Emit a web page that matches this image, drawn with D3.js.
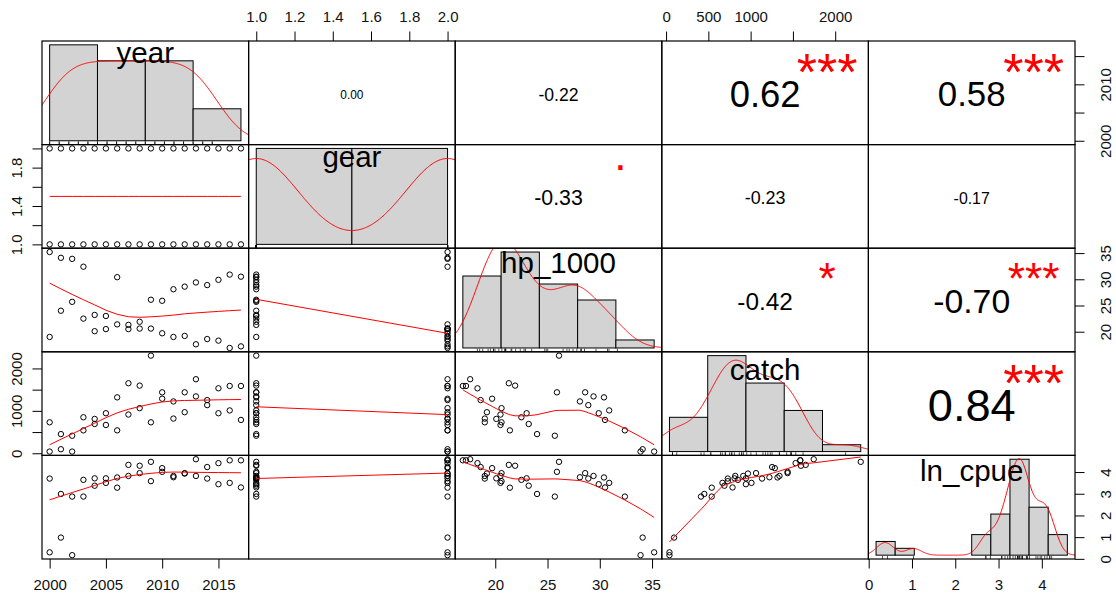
<!DOCTYPE html>
<html><head><meta charset="utf-8">
<script src="https://cdn.jsdelivr.net/npm/d3@7"></script>
<style>html,body{margin:0;padding:0;background:#fff}svg{display:block}</style>
</head><body>
<svg id="c" width="1116" height="594"></svg>
<script>
// ---------------- data ----------------
const varNames = ["year", "gear", "hp_1000", "catch", "ln_cpue"];
const year = [2000,2000,2001,2001,2002,2002,2003,2003,2004,2004,2005,2005,2006,2006,2007,2007,2008,2008,
              2009,2009,2010,2010,2011,2011,2012,2012,2013,2013,2014,2014,2015,2015,2016,2016,2017,2017];
const gear = [1,2,1,2,1,2,1,2,1,2,1,2,1,2,1,2,1,2,1,2,1,2,1,2,1,2,1,2,1,2,1,2,1,2,1,2];
const hp1000 = [19.0,35.2, 24.0,34.1, 25.7,33.9, 22.5,32.4, 23.2,20.1, 23.0,20.5, 30.4,21.4, 21.3,20.5,
                21.9,20.6, 26.1,20.6, 25.9,19.7, 28.1,19.0, 28.6,19.2, 29.4,17.6, 28.9,18.6, 29.9,18.3,
                30.9,16.9, 30.5,17.2];
const catchV = [730,40, 452,95, 413,40, 849,540, 690,810, 944,667, 1318,540, 1651,913, 1595,1064, 2302,730,
                1437,1286, 1222,818, 1437,968, 1341,1746, 1135,1254, 944,1532, 1010,1587, 786,1587];
const lnCpue = [3.70,0.30, 2.99,0.98, 2.87,0.17, 3.64,2.87, 3.37,3.71, 3.71,3.50, 3.75,3.28, 4.33,3.82,
                4.29,3.95, 4.47,3.58, 4.01,4.18, 3.76,3.82, 3.95,3.93, 3.82,4.59, 3.70,4.23, 3.44,4.41,
                3.50,4.54, 3.29,4.54];

// histogram breaks
const breaksYear = [2000, 2005, 2010, 2015, 2020];
const breaksGear = [1.0, 1.5, 2.0];
const breaksHp = [15, 20, 25, 30, 35, 40];
const breaksCatch = [0, 500, 1000, 1500, 2000, 2500];
const breaksLn = [0, 0.5, 1, 1.5, 2, 2.5, 3, 3.5, 4, 4.5, 5];

// correlations (upper panels, pairs i<j in row order) and significance
const corPairs = [[0,1],[0,2],[0,3],[0,4],[1,2],[1,3],[1,4],[2,3],[2,4],[3,4]];
const corValues = [0.00, -0.22, 0.62, 0.58, -0.33, -0.23, -0.17, -0.42, -0.70, 0.84];
const corLabels = ["0.00", "-0.22", "0.62", "0.58", "-0.33", "-0.23", "-0.17", "-0.42", "-0.70", "0.84"];
const corSignif = ["", "", "***", "***", ".", "", "", "*", "***", "***"];

// axis ticks and the labels that are shown
const yearTicks = [2000, 2005, 2010, 2015];
const yearBottomLabels = [2000, 2005, 2010, 2015];
const yearRightLabels = [2000, 2010];
const gearTicks = [1.0, 1.2, 1.4, 1.6, 1.8, 2.0];
const gearTopLabels = [1.0, 1.2, 1.4, 1.6, 1.8, 2.0];
const gearLeftLabels = [1.0, 1.4, 1.8];
const hpTicks = [20, 25, 30, 35];
const hpBottomLabels = [20, 25, 30, 35];
const hpRightLabels = [20, 25, 30, 35];
const catchTicks = [0, 500, 1000, 1500, 2000];
const catchTopLabels = [0, 500, 1000, 2000];
const catchLeftLabels = [0, 1000, 2000];
const lnTicks = [0, 1, 2, 3, 4];
const lnBottomLabels = [0, 1, 2, 3, 4];
const lnRightLabels = [0, 1, 2, 3, 4];

// ---------------- helpers ----------------
const FONT = '"Liberation Sans", Arial, Helvetica, sans-serif';
const series = [year, gear, hp1000, catchV, lnCpue];
const breaksList = [breaksYear, breaksGear, breaksHp, breaksCatch, breaksLn];
const N = year.length;
const nv = varNames.length;
const L = 42, R = 1075, T = 41, B = 559;
const pw = (R - L) / nv, ph = (B - T) / nv;
const colX = d3.range(nv).map(k => L + k * pw);
const rowY = d3.range(nv).map(k => T + k * ph);

const cv = document.createElement('canvas').getContext('2d');
function ink(text, fs) {
  cv.font = `${fs}px ${FONT}`;
  const m = cv.measureText(text);
  return {w: m.width, asc: m.actualBoundingBoxAscent, desc: m.actualBoundingBoxDescent};
}
// baseline so that the ink of the text is centred on yc
function baselineFor(text, fs, yc) { const m = ink(text, fs); return yc + (m.asc - m.desc) / 2; }

function padDomain(v) { const [a, b] = d3.extent(v); const r = b - a; return [a - 0.04 * r, b + 0.04 * r]; }

function bwNrd0(x) {
  const s = d3.deviation(x);
  const sorted = x.slice().sort((a, b) => a - b);
  const iqr = d3.quantileSorted(sorted, 0.75) - d3.quantileSorted(sorted, 0.25);
  let lo = Math.min(s, iqr / 1.34);
  if (!(lo > 0)) lo = s || Math.abs(x[0]) || 1;
  return 0.9 * lo * Math.pow(x.length, -0.2);
}
function density(x) {
  const bw = bwNrd0(x);
  const lo = d3.min(x) - 3 * bw, hi = d3.max(x) + 3 * bw;
  const n = x.length, out = [];
  for (let i = 0; i < 512; i++) {
    const g = lo + (hi - lo) * i / 511;
    let s = 0;
    for (const v of x) { const z = (g - v) / bw; s += Math.exp(-0.5 * z * z); }
    out.push([g, s / (n * bw * Math.sqrt(2 * Math.PI))]);
  }
  return out;
}

// port of R's clowess
function lowest(x, y, n, xs, nleft, nright, w, userw, rw) {
  const range = x[n] - x[1];
  const h = Math.max(xs - x[nleft], x[nright] - xs);
  const h9 = 0.999 * h, h1 = 0.001 * h;
  let a = 0, j = nleft;
  while (j <= n) {
    w[j] = 0;
    const r = Math.abs(x[j] - xs);
    if (r <= h9) {
      if (r <= h1) w[j] = 1; else w[j] = Math.pow(1 - Math.pow(r / h, 3), 3);
      if (userw) w[j] *= rw[j];
      a += w[j];
    } else if (x[j] > xs) break;
    j++;
  }
  const nrt = j - 1;
  if (a <= 0) return {ok: false};
  for (j = nleft; j <= nrt; j++) w[j] /= a;
  if (h > 0) {
    a = 0;
    for (j = nleft; j <= nrt; j++) a += w[j] * x[j];
    let b = xs - a, c = 0;
    for (j = nleft; j <= nrt; j++) c += w[j] * (x[j] - a) * (x[j] - a);
    if (Math.sqrt(c) > 0.001 * range) {
      b /= c;
      for (j = nleft; j <= nrt; j++) w[j] *= (b * (x[j] - a) + 1);
    }
  }
  let ys = 0;
  for (j = nleft; j <= nrt; j++) ys += w[j] * y[j];
  return {ok: true, ys};
}
function lowess(xIn, yIn, f = 2 / 3, nsteps = 3) {
  const n = xIn.length;
  const idx = d3.range(n).sort((a, b) => (xIn[a] - xIn[b]) || (a - b));
  const x = [0].concat(idx.map(i => xIn[i]));
  const y = [0].concat(idx.map(i => yIn[i]));
  const delta = 0.01 * (x[n] - x[1]);
  const ys = new Array(n + 1).fill(0), rw = new Array(n + 1).fill(0),
        res = new Array(n + 1).fill(0), w = new Array(n + 1).fill(0);
  const ns = Math.max(2, Math.min(n, Math.floor(f * n + 1e-7)));
  let iter = 1;
  while (iter <= nsteps + 1) {
    let nleft = 1, nright = ns, last = 0, i = 1;
    for (;;) {
      if (nright < n) {
        const d1 = x[i] - x[nleft], d2 = x[nright + 1] - x[i];
        if (d1 > d2) { nleft++; nright++; continue; }
      }
      const r = lowest(x, y, n, x[i], nleft, nright, w, iter > 1, rw);
      ys[i] = r.ok ? r.ys : y[i];
      if (last < i - 1) {
        const denom = x[i] - x[last];
        for (let j = last + 1; j < i; j++) {
          const alpha = (x[j] - x[last]) / denom;
          ys[j] = alpha * ys[i] + (1 - alpha) * ys[last];
        }
      }
      last = i;
      const cut = x[last] + delta;
      for (i = last + 1; i <= n; i++) {
        if (x[i] > cut) break;
        if (x[i] === x[last]) { ys[i] = ys[last]; last = i; }
      }
      i = Math.max(last + 1, i - 1);
      if (last >= n) break;
    }
    let sc = 0;
    for (let k = 1; k <= n; k++) { res[k] = y[k] - ys[k]; sc += Math.abs(res[k]); }
    sc /= n;
    if (iter > nsteps) break;
    for (let k = 1; k <= n; k++) rw[k] = Math.abs(res[k]);
    const sorted = rw.slice(1).sort((a, b) => a - b);
    const m1 = Math.floor(n / 2);
    let cmad;
    if (n % 2 === 0) { const m2 = n - m1 - 1; cmad = 3 * (sorted[m1] + sorted[m2]); }
    else cmad = 6 * sorted[m1];
    if (cmad < 1e-7 * sc) break;
    const c9 = 0.999 * cmad, c1 = 0.001 * cmad;
    for (let k = 1; k <= n; k++) {
      const r = Math.abs(res[k]);
      rw[k] = r <= c1 ? 1 : (r <= c9 ? Math.pow(1 - Math.pow(r / cmad, 2), 2) : 0);
    }
    iter++;
  }
  const out = [];
  for (let k = 1; k <= n; k++) out.push([x[k], ys[k]]);
  return out;
}

// ---------------- drawing ----------------
const svg = d3.select('#c');
svg.append('rect').attr('width', 1116).attr('height', 594).attr('fill', '#fff');
const defs = svg.append('defs');

const xS = series.map((v, k) => d3.scaleLinear().domain(padDomain(v)).range([colX[k], colX[k] + pw]));
const yS = series.map((v, k) => d3.scaleLinear().domain(padDomain(v)).range([rowY[k] + ph, rowY[k]]));

function clipId(i, j) {
  const id = `clip${i}_${j}`;
  if (defs.select('#' + id).empty())
    defs.append('clipPath').attr('id', id).append('rect')
      .attr('x', colX[j]).attr('y', rowY[i]).attr('width', pw).attr('height', ph);
  return `url(#${id})`;
}

for (let i = 0; i < nv; i++) {
  for (let j = 0; j < nv; j++) {
    const cx = colX[j] + pw / 2, cy = rowY[i] + ph / 2;
    if (i > j) {
      // lower panel: points + lowess
      const g = svg.append('g').attr('clip-path', clipId(i, j));
      g.selectAll('circle').data(d3.range(N)).join('circle')
        .attr('cx', n => xS[j](series[j][n])).attr('cy', n => yS[i](series[i][n]))
        .attr('r', 2.7).attr('fill', 'none').attr('stroke', '#000').attr('stroke-width', 1);
      const lw = lowess(series[j], series[i]);
      g.append('path').attr('d', d3.line().x(d => xS[j](d[0])).y(d => yS[i](d[1]))(lw))
        .attr('fill', 'none').attr('stroke', '#ff0000').attr('stroke-width', 1);
    } else if (i < j) {
      const ci = corPairs.findIndex(p => p[0] === i && p[1] === j);
      const r = corValues[ci], txt = corLabels[ci], sig = corSignif[ci];
      const u = ink(txt, 100).w / 100;
      const cexFs = 0.49 * pw / u;
      const fsNum = 0.485 * pw / u * (Math.abs(r) + 0.3) / 1.3;
      svg.append('text').attr('x', cx).attr('y', baselineFor(txt, fsNum, cy) + 1.5)
        .attr('text-anchor', 'middle').attr('font-family', FONT).attr('font-size', fsNum)
        .attr('fill', '#000').text(txt);
      if (sig) {
        const sx = colX[j] + 0.8 * pw, sy = rowY[i] + ph - 0.8 * ph;
        svg.append('text').attr('x', sx).attr('y', baselineFor(sig, cexFs, sy) + 2)
          .attr('text-anchor', 'middle').attr('font-family', FONT).attr('font-size', cexFs)
          .attr('fill', '#ff0000').text(sig);
      }
    } else {
      // diagonal: histogram + density + rug + label
      const v = series[i], br = breaksList[i], nb = br.length - 1;
      const counts = new Array(nb).fill(0);
      for (const val of v) {
        let k = 0;
        while (k < nb - 1 && val > br[k + 1] + 1e-9) k++;
        counts[k]++;
      }
      const dens = counts.map((c, k) => c / (N * (br[k + 1] - br[k])));
      const maxD = d3.max(dens);
      const span = br[nb] - br[0];
      const hx = d3.scaleLinear().domain([br[0] - 0.04 * span, br[nb] + 0.04 * span]).range([colX[j], colX[j] + pw]);
      const hy = d3.scaleLinear().domain([-0.04 * maxD, 1.04 * maxD]).range([rowY[i] + ph, rowY[i]]);
      const g = svg.append('g').attr('clip-path', clipId(i, j));
      g.selectAll('rect.bar').data(d3.range(nb)).join('rect').attr('class', 'bar')
        .attr('x', k => hx(br[k])).attr('width', k => hx(br[k + 1]) - hx(br[k]))
        .attr('y', k => hy(dens[k])).attr('height', k => hy(0) - hy(dens[k]))
        .attr('fill', '#d3d3d3').attr('stroke', '#000').attr('stroke-width', 1);
      g.append('path').attr('d', d3.line().x(d => hx(d[0])).y(d => hy(d[1]))(density(v)))
        .attr('fill', 'none').attr('stroke', '#ff0000').attr('stroke-width', 1);
      svg.append('g').selectAll('line').data(v).join('line')
        .attr('x1', d => hx(d)).attr('x2', d => hx(d))
        .attr('y1', rowY[i] + ph).attr('y2', rowY[i] + ph - 0.03 * ph)
        .attr('stroke', '#000').attr('stroke-width', 0.7);
      const lfs = 29.5;
      const ly = rowY[i] + (1 - 0.8333) * ph;
      svg.append('text').attr('x', cx).attr('y', baselineFor(varNames[i], lfs, ly))
        .attr('text-anchor', 'middle').attr('font-family', FONT).attr('font-size', lfs)
        .attr('fill', '#000').text(varNames[i]);
    }
    svg.append('rect').attr('x', colX[j]).attr('y', rowY[i]).attr('width', pw).attr('height', ph)
      .attr('fill', 'none').attr('stroke', '#000').attr('stroke-width', 1.2);
  }
}

// ---------------- axes ----------------
const TFS = 15;
function drawAxis(side, k, ticks, labeled, fmt) {
  const scale = (side === 'top' || side === 'bottom') ? xS[k] : yS[k];
  const gen = {top: d3.axisTop, bottom: d3.axisBottom, left: d3.axisLeft, right: d3.axisRight}[side](scale)
    .tickValues(ticks).tickSize(9.5).tickSizeOuter(0)
    .tickFormat(d => labeled.some(l => Math.abs(l - d) < 1e-9) ? fmt(d) : '');
  const tr = {top: `translate(0,${T})`, bottom: `translate(0,${B})`, left: `translate(${L},0)`, right: `translate(${R},0)`}[side];
  const g = svg.append('g').attr('transform', tr).call(gen);
  g.select('.domain').remove();
  g.selectAll('.tick line').attr('stroke', '#000').attr('stroke-width', 1);
  const t = g.selectAll('.tick text').attr('font-family', FONT).attr('font-size', TFS).attr('fill', '#111')
    .attr('dy', null).attr('text-anchor', 'middle');
  if (side === 'top') t.attr('y', 16.7 + 0.358 * TFS - T);
  if (side === 'bottom') t.attr('y', 585 + 0.358 * TFS - B);
  if (side === 'left') t.attr('x', 0).attr('y', 0.358 * TFS).attr('transform', `translate(${16.7 - L},0) rotate(-90)`);
  if (side === 'right') t.attr('x', 0).attr('y', 0.358 * TFS).attr('transform', `translate(${1105.5 - R},0) rotate(-90)`);
}
const fInt = d3.format('d'), f1 = d3.format('.1f');
drawAxis('bottom', 0, yearTicks, yearBottomLabels, fInt);
drawAxis('right', 0, yearTicks, yearRightLabels, fInt);
drawAxis('top', 1, gearTicks, gearTopLabels, f1);
drawAxis('left', 1, gearTicks, gearLeftLabels, f1);
drawAxis('bottom', 2, hpTicks, hpBottomLabels, fInt);
drawAxis('right', 2, hpTicks, hpRightLabels, fInt);
drawAxis('top', 3, catchTicks, catchTopLabels, fInt);
drawAxis('left', 3, catchTicks, catchLeftLabels, fInt);
drawAxis('bottom', 4, lnTicks, lnBottomLabels, fInt);
drawAxis('right', 4, lnTicks, lnRightLabels, fInt);
</script>
</body></html>
